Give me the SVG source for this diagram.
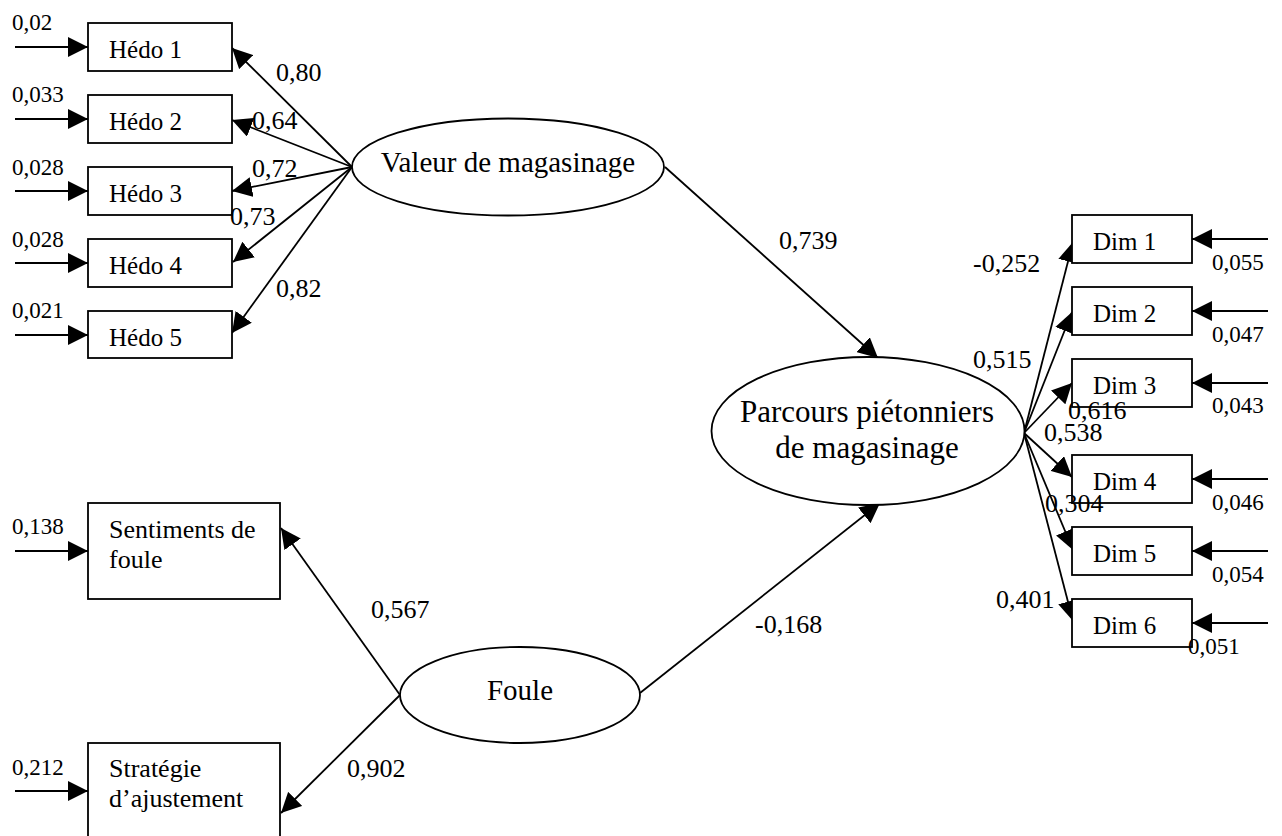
<svg xmlns="http://www.w3.org/2000/svg" width="1282" height="836" viewBox="0 0 1282 836" font-family="'Liberation Serif', 'Times New Roman', Tinos, 'DejaVu Serif', serif">
<style>
  .box{fill:#fff;stroke:#000;stroke-width:1.8}
  .ell{fill:#fff;stroke:#000;stroke-width:1.8}
  .ln{fill:none;stroke:#000;stroke-width:1.8;marker-end:url(#ah)}
  text{font-family:'Liberation Serif','Times New Roman',Tinos,'DejaVu Serif',serif;fill:#000}
  .bt{font-size:25px}
  .bt2{font-size:26px}
  .et{font-size:29px;text-anchor:middle}
  .et2{font-size:31px;text-anchor:middle}
  .ld{font-size:26px}
  .rs{font-size:23px}
</style>
<defs>
  <marker id="ah" markerUnits="userSpaceOnUse" markerWidth="20" markerHeight="20" refX="20" refY="10" orient="auto" viewBox="0 0 20 20">
    <path d="M0,0 L20,10 L0,20 z" fill="#000"/>
  </marker>
</defs>
<rect width="1282" height="836" fill="#fff"/>

<g id="connectors">
  <line class="ln" x1="15" y1="47" x2="88" y2="47"/>
  <line class="ln" x1="15" y1="119" x2="88" y2="119"/>
  <line class="ln" x1="15" y1="191" x2="88" y2="191"/>
  <line class="ln" x1="15" y1="263" x2="88" y2="263"/>
  <line class="ln" x1="15" y1="335" x2="88" y2="335"/>
  <line class="ln" x1="15" y1="551" x2="88" y2="551"/>
  <line class="ln" x1="15" y1="791" x2="88" y2="791"/>

  <line class="ln" x1="352" y1="167" x2="232" y2="48"/>
  <line class="ln" x1="352" y1="167" x2="232" y2="120"/>
  <line class="ln" x1="352" y1="167" x2="232" y2="191"/>
  <line class="ln" x1="352" y1="167" x2="233" y2="262"/>
  <line class="ln" x1="352" y1="167" x2="232" y2="333"/>

  <line class="ln" x1="665" y1="167" x2="878" y2="358"/>
  <line class="ln" x1="640" y1="693" x2="880" y2="503"/>
  <line class="ln" x1="400" y1="695" x2="281" y2="528"/>
  <line class="ln" x1="400" y1="695" x2="281" y2="813"/>

  <line class="ln" x1="1024" y1="433" x2="1073" y2="242"/>
  <line class="ln" x1="1024" y1="433" x2="1072" y2="312"/>
  <line class="ln" x1="1024" y1="433" x2="1072" y2="383"/>
  <line class="ln" x1="1024" y1="433" x2="1072" y2="477"/>
  <line class="ln" x1="1024" y1="433" x2="1073" y2="550"/>
  <line class="ln" x1="1024" y1="433" x2="1073" y2="621"/>

  <line class="ln" x1="1268" y1="239" x2="1192" y2="239"/>
  <line class="ln" x1="1268" y1="311" x2="1192" y2="311"/>
  <line class="ln" x1="1268" y1="383" x2="1192" y2="383"/>
  <line class="ln" x1="1268" y1="479" x2="1192" y2="479"/>
  <line class="ln" x1="1268" y1="551" x2="1192" y2="551"/>
  <line class="ln" x1="1268" y1="623" x2="1192" y2="623"/>
</g>

<g id="hedo1"><rect class="box" x="88" y="23" width="144" height="48"/><text class="bt" x="109" y="58">Hédo 1</text></g>
<g id="hedo2"><rect class="box" x="88" y="95" width="144" height="48"/><text class="bt" x="109" y="130">Hédo 2</text></g>
<g id="hedo3"><rect class="box" x="88" y="167" width="144" height="48"/><text class="bt" x="109" y="202">Hédo 3</text></g>
<g id="hedo4"><rect class="box" x="88" y="239" width="144" height="48"/><text class="bt" x="109" y="274">Hédo 4</text></g>
<g id="hedo5"><rect class="box" x="88" y="311" width="144" height="47"/><text class="bt" x="109" y="346">Hédo 5</text></g>

<g id="sentiments"><rect class="box" x="88" y="503" width="192" height="96"/><text class="bt2" x="109" y="538">Sentiments de</text><text class="bt2" x="109" y="568">foule</text></g>
<g id="strategie"><rect class="box" x="88" y="743" width="192" height="100"/><text class="bt2" x="109" y="777">Stratégie</text><text class="bt2" x="109" y="807">d’ajustement</text></g>

<g id="valeur"><ellipse class="ell" cx="508" cy="167" rx="156" ry="48.5"/><text class="et" x="508" y="172">Valeur de magasinage</text></g>
<g id="parcours"><ellipse class="ell" cx="868" cy="431" rx="156.5" ry="74"/><text class="et2" x="867" y="422">Parcours piétonniers</text><text class="et2" x="867" y="458">de magasinage</text></g>
<g id="foule"><ellipse class="ell" cx="520" cy="695" rx="120" ry="48"/><text class="et" x="520" y="700">Foule</text></g>

<g id="dim1"><rect class="box" x="1072" y="215" width="120" height="48"/><text class="bt" x="1093" y="250">Dim 1</text></g>
<g id="dim2"><rect class="box" x="1072" y="287" width="120" height="48"/><text class="bt" x="1093" y="322">Dim 2</text></g>
<g id="dim3"><rect class="box" x="1072" y="359" width="120" height="48"/><text class="bt" x="1093" y="394">Dim 3</text></g>
<g id="dim4"><rect class="box" x="1072" y="455" width="120" height="48"/><text class="bt" x="1093" y="490">Dim 4</text></g>
<g id="dim5"><rect class="box" x="1072" y="527" width="120" height="48"/><text class="bt" x="1093" y="562">Dim 5</text></g>
<g id="dim6"><rect class="box" x="1072" y="599" width="120" height="48"/><text class="bt" x="1093" y="634">Dim 6</text></g>

<g id="labels">
  <text class="rs" x="12" y="30">0,02</text>
  <text class="rs" x="12" y="102">0,033</text>
  <text class="rs" x="12" y="175">0,028</text>
  <text class="rs" x="12" y="247">0,028</text>
  <text class="rs" x="12" y="318">0,021</text>
  <text class="rs" x="12" y="534">0,138</text>
  <text class="rs" x="12" y="775">0,212</text>

  <text class="ld" x="276" y="81">0,80</text>
  <text class="ld" x="252" y="129">0,64</text>
  <text class="ld" x="252" y="177">0,72</text>
  <text class="ld" x="230" y="225">0,73</text>
  <text class="ld" x="276" y="297">0,82</text>

  <text class="ld" x="779" y="249">0,739</text>
  <text class="ld" x="755" y="633">-0,168</text>
  <text class="ld" x="371" y="618">0,567</text>
  <text class="ld" x="347" y="777">0,902</text>

  <text class="ld" x="973" y="272">-0,252</text>
  <text class="ld" x="973" y="368">0,515</text>
  <text class="ld" x="1068" y="419">0,616</text>
  <text class="ld" x="1044" y="441">0,538</text>
  <text class="ld" x="1045" y="512">0,304</text>
  <text class="ld" x="996" y="608">0,401</text>

  <text class="rs" x="1212" y="270">0,055</text>
  <text class="rs" x="1212" y="342">0,047</text>
  <text class="rs" x="1212" y="413">0,043</text>
  <text class="rs" x="1212" y="510">0,046</text>
  <text class="rs" x="1212" y="582">0,054</text>
  <text class="rs" x="1188" y="654">0,051</text>
</g>
</svg>
